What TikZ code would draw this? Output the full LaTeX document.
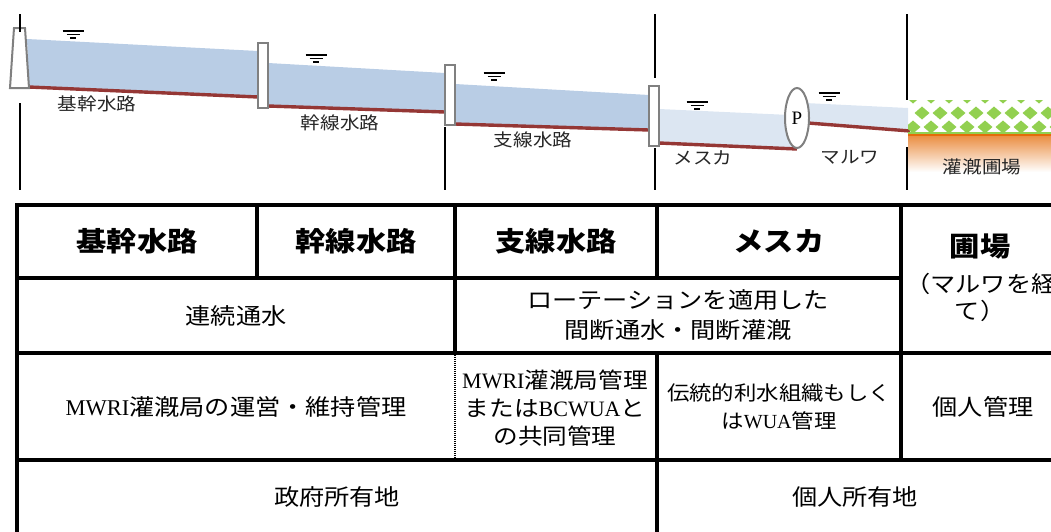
\documentclass[tikz,border=0pt]{standalone}
\usepackage{fontspec}
\setmainfont{Liberation Serif}
\newfontfamily\jp[FakeStretch=1.12]{Noto Sans CJK JP}
\newcommand\latn[1]{{\rmfamily #1}}

\definecolor{water}{HTML}{B9CDE5}
\definecolor{waterlt}{HTML}{DCE6F2}
\definecolor{bedred}{HTML}{953735}
\definecolor{grass}{HTML}{92D050}
\definecolor{soil}{HTML}{E46C0A}
\definecolor{gatecol}{HTML}{808080}

\tikzset{
  gate/.style={draw=gatecol, line width=2pt, fill=white},
  bed/.style={draw=bedred, line width=3.4pt},
  divider/.style={line width=1.3pt},
  tline/.style={line width=3.2pt, line cap=rect},
  lbl/.style={font=\jp\fontsize{17.5}{20}\selectfont, text=black!85},
  hd/.style={font=\jp\bfseries\fontsize{27}{30}\selectfont},
  txt/.style={font=\jp\fontsize{22.5}{30}\selectfont, align=center},
  wlev/.pic={
    \draw[line width=1.7pt] (-10.5,0) -- (10.5,0);
    \draw[line width=1.5pt] (-6.5,3.5) -- (6.5,3.5);
    \draw[line width=1.3pt] (-3,7) -- (3,7);
  }
}

\begin{document}
\begin{tikzpicture}[x=1pt, y=-1pt]
\useasboundingbox (0,0) rectangle (1051,531);
\clip (0,0) rectangle (1051,531);

% water in each reach
\fill[water] (27,39) -- (258,51) -- (258,97) -- (29,87) -- cycle;
\fill[water] (268,63) -- (445,73) -- (445,112) -- (268,106) -- cycle;
\fill[water] (455,84) -- (649,95) -- (649,130) -- (455,124) -- cycle;
\fill[waterlt] (659,109) -- (790,115) -- (797,149) -- (659,143) -- cycle;
\fill[waterlt] (805,103) -- (908,108) -- (908,131) -- (808,123) -- cycle;

% canal beds
\draw[bed] (29,87) -- (258,97);
\draw[bed] (268,106) -- (445,112);
\draw[bed] (455,124) -- (649,130);
\draw[bed] (659,143) -- (797,149);
\draw[bed] (808,123) -- (910,131);

% weir, gates and pump
\draw[gate] (10,88) -- (14,28) -- (25,28) -- (29,88) -- cycle;
\draw[gate] (258,43) rectangle (268,108);
\draw[gate] (445,65) rectangle (455,125);
\draw[gate] (649,86) rectangle (659,146);
\draw[gate] (797,118) ellipse [x radius=12, y radius=30];
\node[font=\fontsize{19}{19}\selectfont] (pump) at (797,118) {P};

% water level marks
\foreach \p in {(73,31),(316,55),(494,73),(697,102),(829,93)}
  \pic at \p {wlev};

% dividers between the reaches
\draw[divider] (20,14) -- (20,32);
\draw[divider] (20,103) -- (20,190);
\draw[divider] (445,127) -- (445,190);
\draw[divider] (655,14) -- (655,78);
\draw[divider] (655,148) -- (655,190);
\draw[divider] (907,14) -- (907,100);
\draw[divider] (907,147) -- (907,190);

% field: crop pattern and soil
\begin{scope}
  \clip (908,100) rectangle (1051,134);
  \foreach \cy/\dx in {97/0, 113/9, 127/0}
    \foreach \i in {0,...,8}
      \fill[grass] (913+18*\i+\dx-7.5,\cy) -- ++(7.5,-6.5) -- ++(7.5,6.5) -- ++(-7.5,6.5) -- cycle;
  \fill[grass] (908,131.5) rectangle (1051,134);
\end{scope}
\fill[soil] (908,134) rectangle (1051,136.5);
\shade[top color=soil!75, bottom color=white] (908,136.5) rectangle (1051,172);

% reach labels
\node[lbl] (lbl1) at (97,104) {基幹水路};
\node[lbl] (lbl2) at (340,123) {幹線水路};
\node[lbl] (lbl3) at (533,140) {支線水路};
\node[lbl] (lbl4) at (703,158) {メスカ};
\node[lbl] (lbl5) at (850,157) {マルワ};
\node[lbl] (lbl6) at (982,167) {灌漑圃場};

% table rules
\draw[tline] (17,205) -- (1060,205);
\draw[tline] (17,278) -- (901,278);
\draw[tline] (17,353) -- (1060,353);
\draw[tline] (17,460) -- (1060,460);
\draw[tline] (17,205) -- (17,540);
\draw[tline] (257,205) -- (257,278);
\draw[tline] (455,205) -- (455,353);
\draw[tline] (657,205) -- (657,278);
\draw[tline] (657,353) -- (657,540);
\draw[tline] (901,205) -- (901,460);
\draw[line width=1.5pt, dash pattern=on 1pt off 1pt] (455,355) -- (455,458);

% header row
\node[hd] (h1) at (137,241) {基幹水路};
\node[hd] (h2) at (356,241) {幹線水路};
\node[hd] (h3) at (556,241) {支線水路};
\node[hd] (h4) at (779,241) {メスカ};
\node[hd] (h5) at (980,246) {圃場};
\node[txt, anchor=west, inner sep=0pt] (h5a) at (905,284) {（マルワを経};
\node[txt] (h5b) at (980,311) {て）};

% operation
\node[txt] (op1) at (236,316) {連続通水};
\node[txt] (op2) at (678,315) {ローテーションを適用した\\間断通水・間断灌漑};

% management
\node[txt] (mg1) at (236,407) {\latn{MWRI}灌漑局の運営・維持管理};
\node[txt, font=\jp\fontsize{22}{28}\selectfont] (mg2) at (555,408)
  {\latn{MWRI}灌漑局管理\\または\latn{BCWUA}と\\の共同管理};
\node[txt, font=\jp\fontsize{20}{28}\selectfont] (mg3) at (779,407)
  {伝統的利水組織もしく\\は\latn{WUA}管理};
\node[txt] (mg4) at (983,407) {個人管理};

% land ownership
\node[txt] (ld1) at (337,497) {政府所有地};
\node[txt] (ld2) at (855,497) {個人所有地};
\end{tikzpicture}
\end{document}
